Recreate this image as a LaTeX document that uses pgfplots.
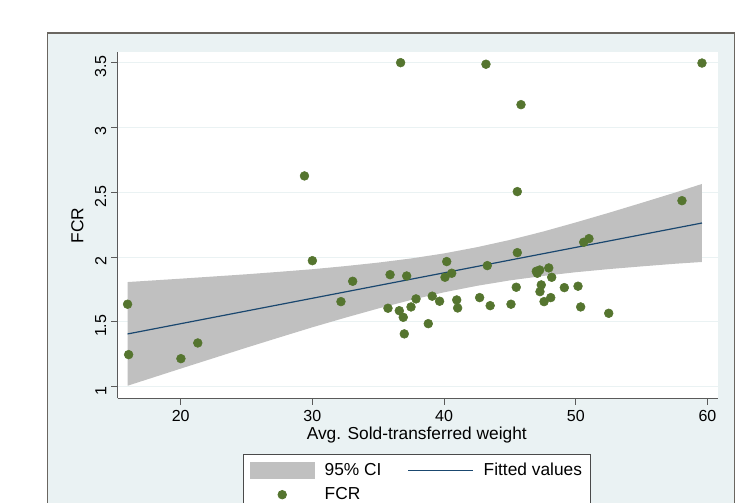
\documentclass[border=0pt]{standalone}
\usepackage{pgfplots}
\pgfplotsset{compat=1.18}
\usepackage{fontspec}
\setmainfont{Liberation Sans}
\definecolor{bgc}{HTML}{EAF2F3}
\definecolor{framec}{HTML}{6A6660}
\definecolor{axc}{HTML}{5A5A5A}
\definecolor{cigray}{HTML}{C0C0C0}
\definecolor{fitc}{HTML}{1A476F}
\definecolor{ptc}{HTML}{55752F}
\definecolor{gridc}{HTML}{EAF2F3}
\definecolor{legc}{HTML}{4A4A4A}

\pgfplotstableread{
x y
36.7 3.50
29.4 2.626
30.0 1.972
33.06 1.813
32.17 1.656
35.9 1.864
37.16 1.854
35.74 1.605
36.6 1.586
36.9 1.535
36.98 1.407
15.97 1.636
16.05 1.247
20.02 1.216
21.3 1.337
43.18 3.488
59.58 3.497
45.84 3.176
45.56 2.505
58.06 2.435
50.6 2.114
51.0 2.142
45.56 2.034
40.2 1.965
43.28 1.934
40.07 1.844
40.58 1.875
47.08 1.875
47.26 1.900
47.95 1.916
48.17 1.844
47.0 1.890
45.48 1.767
47.38 1.785
47.28 1.733
47.59 1.656
48.1 1.687
49.13 1.764
50.17 1.775
50.37 1.615
52.5 1.566
45.08 1.636
42.7 1.687
43.5 1.625
40.96 1.669
41.03 1.607
39.1 1.698
39.66 1.659
37.87 1.677
37.49 1.615
38.8 1.486
}\fcrdata

\begin{document}
\begin{tikzpicture}
\clip (0pt,0pt) rectangle (552pt,377.25pt);
\fill[white] (0pt,0pt) rectangle (552pt,377.25pt);
\filldraw[fill=bgc, draw=framec, line width=0.9pt] (35.625pt,-20pt) rectangle (550.875pt,352.5pt);
\begin{axis}[
  at={(88.275pt,78.525pt)}, anchor=south west,
  scale only axis, width=450.45pt, height=259.5pt,
  xmin=15.22, xmax=60.82, ymin=0.91, ymax=3.58,
  axis x line*=bottom, axis y line*=left,
  axis line style={draw=axc, line width=0.8pt},
  xtick={20,30,40,50,60},
  ytick={1,1.5,2,2.5,3,3.5},
  yticklabels={1,1.5,2,2.5,3,3.5},
  tick align=outside, major tick length=5pt,
  tick style={draw=axc, line width=0.8pt},
  ymajorgrids, major grid style={draw=gridc, line width=0.8pt},
  axis background/.style={fill=white},
  /pgf/number format/assume math mode=true,
  tick label style={font=\fontsize{12}{12}\selectfont, text=black},
  xticklabel style={yshift=-0.8pt},
  yticklabel style={rotate=90, anchor=south, xshift=-3pt},
  xlabel={Avg. Sold-transferred weight}, ylabel={FCR},
  label style={font=\fontsize{13}{13}\selectfont},
  xlabel style={at={(axis description cs:0.498,-0.1065)}, anchor=center},
  ylabel style={at={(axis description cs:-0.0669,0.5)}, anchor=center},
  legend columns=2,
  legend cell align=left,
  legend style={at={(axis description cs:0.2091,-0.1618)}, anchor=north west,
    draw=legc, fill=white, line width=0.6pt,
    font=\fontsize{13}{13}\selectfont,
    inner xsep=4.5pt, inner ysep=5pt,
    nodes={inner sep=1.5pt},
    row sep=4.3pt,
    /tikz/every odd column/.append style={column sep=6pt},
    /tikz/every even column/.append style={column sep=18pt}},
]
\addplot[fill=cigray, draw=none,
  legend image code/.code={\fill[cigray] (0pt,-6.4pt) rectangle (48.75pt,6.4pt);}]
  coordinates {
  (15.97,1.807) (20,1.833) (22.5,1.850) (25,1.867) (27.5,1.886) (30,1.906)
  (32.5,1.930) (35,1.957) (37.5,1.989) (40,2.028) (42.5,2.076) (45,2.132)
  (47.5,2.196) (50,2.267) (52.5,2.341) (55,2.418) (57.5,2.496) (59.58,2.564)
  (59.58,1.962) (57.5,1.948) (55,1.928) (52.5,1.907) (50,1.883) (47.5,1.854)
  (45,1.820) (42.5,1.778) (40,1.728) (37.5,1.669) (35,1.603) (32.5,1.532)
  (30,1.458) (27.5,1.380) (25,1.301) (22.5,1.220) (20,1.139) (15.97,1.007)
  } -- cycle;
\addlegendentry{95\% CI}
\addplot[fitc, line width=0.9pt,
  legend image code/.code={\draw[fitc, line width=0.9pt] (0pt,0pt) -- (48.75pt,0pt);}]
  coordinates {(15.97,1.4065) (59.58,2.2626)};
\addlegendentry{Fitted values}
\addplot[only marks, mark=*, mark size=3.3pt, mark options={fill=ptc, draw=ptc},
  legend image code/.code={\path[draw=none,fill=none] (0pt,-1pt) rectangle (48.75pt,1pt); \fill[ptc] (24.4pt,0pt) circle (3.2pt);}]
  table[x=x, y=y] {\fcrdata};
\addlegendentry{FCR}
\end{axis}
\end{tikzpicture}
\end{document}
